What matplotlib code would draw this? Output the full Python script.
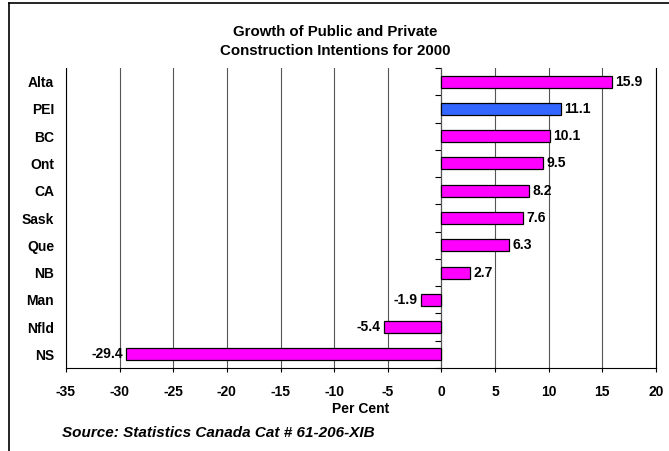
import matplotlib.pyplot as plt
from matplotlib.lines import Line2D

plt.rcParams["font.family"] = ["Liberation Sans", "DejaVu Sans"]

provinces = ["Alta", "PEI", "BC", "Ont", "CA", "Sask", "Que", "NB", "Man", "Nfld", "NS"]
growth = [15.9, 11.1, 10.1, 9.5, 8.2, 7.6, 6.3, 2.7, -1.9, -5.4, -29.4]
highlight = "PEI"
x_ticks = [-35, -30, -25, -20, -15, -10, -5, 0, 5, 10, 15, 20]

W, H = 669, 451
fig = plt.figure(figsize=(W / 100, H / 100), dpi=100)
ax = fig.add_axes([66 / W, 1 - 368 / H, 590 / W, 300 / H])

pos = list(range(len(provinces)))
colors = ["#3366FF" if p == highlight else "#FF00FF" for p in provinces]
ax.barh(pos, growth, height=0.44, color=colors, edgecolor="black", linewidth=0.9, zorder=3)

for y, v in zip(pos, growth):
    ha = "left" if v >= 0 else "right"
    off = 0.3 if v >= 0 else -0.3
    ax.text(v + off, y, f"{v}", ha=ha, va="center", fontsize=10, fontweight="bold", zorder=4)

ax.set_xlim(-35, 20)
ax.set_ylim(len(provinces) - 0.5, -0.5)
ax.set_xticks(x_ticks)
ax.set_xticklabels([str(t) for t in x_ticks], fontsize=10, fontweight="bold")
ax.tick_params(axis="x", length=3, width=0.8, pad=9, direction="out")
ax.set_yticks(pos)
ax.set_yticklabels(provinces, fontsize=10, fontweight="bold")
ax.tick_params(axis="y", length=0, pad=8.6)
ax.grid(axis="x", color="#555555", linewidth=0.8, zorder=0)

ax.spines["top"].set_visible(False)
for side in ["left", "right", "bottom"]:
    ax.spines[side].set_linewidth(0.8)

# category axis crossing at zero, ticks between categories pointing left
zero_axis = ax.secondary_yaxis(35 / 55)
zero_axis.set_alignment("left")
zero_axis.set_yticks([p - 0.5 for p in pos] + [len(provinces) - 0.5])
zero_axis.tick_params(length=4, width=0.8, direction="out", left=True, right=False,
                      labelleft=False, labelright=False)
zero_axis.spines["left"].set_linewidth(0.8)

# axis title centred under the plot area
fig.text(361 / W, 1 - 413 / H, "Per Cent", ha="center", va="baseline",
         fontsize=10, fontweight="bold")

fig.text(335.5 / W, 1 - 36 / H, "Growth of Public and Private",
         ha="center", va="baseline", fontsize=10.8, fontweight="bold")
fig.text(335.5 / W, 1 - 55 / H, "Construction Intentions for 2000",
         ha="center", va="baseline", fontsize=10.8, fontweight="bold")
fig.text(62 / W, 1 - 437 / H, "Source: Statistics Canada Cat # 61-206-XIB",
         ha="left", va="baseline", fontsize=11, fontweight="bold", style="italic")

# frame lines on the top and left edges of the figure
fig.add_artist(Line2D([9 / W, 9 / W], [0, 1 - 3 / H], color="black", linewidth=1.2))
fig.add_artist(Line2D([9 / W, 1], [1 - 3 / H, 1 - 3 / H], color="black", linewidth=1.2))

fig.savefig("out.png", dpi=100)
